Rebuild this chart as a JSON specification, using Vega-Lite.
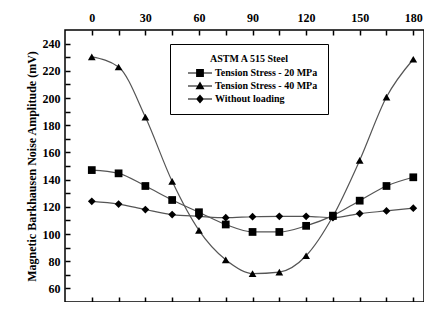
{
  "$schema": "https://vega.github.io/schema/vega-lite/v6.json",
  "width": 359,
  "height": 272,
  "autosize": {"type": "none"},
  "padding": {"left": 65, "top": 30, "right": 0, "bottom": 0},
  "background": "white",
  "config": {
    "view": {"stroke": "black", "strokeWidth": 1.5},
    "font": "Liberation Serif"
  },
  "data": {
    "values": [
      {"angle": 0, "amp": 147, "series": "Tension Stress - 20 MPa"},
      {"angle": 15, "amp": 144.6, "series": "Tension Stress - 20 MPa"},
      {"angle": 30, "amp": 135.3, "series": "Tension Stress - 20 MPa"},
      {"angle": 45, "amp": 125, "series": "Tension Stress - 20 MPa"},
      {"angle": 60, "amp": 116, "series": "Tension Stress - 20 MPa"},
      {"angle": 75, "amp": 107, "series": "Tension Stress - 20 MPa"},
      {"angle": 90, "amp": 101.5, "series": "Tension Stress - 20 MPa"},
      {"angle": 105, "amp": 101.5, "series": "Tension Stress - 20 MPa"},
      {"angle": 120, "amp": 106, "series": "Tension Stress - 20 MPa"},
      {"angle": 135, "amp": 113.5, "series": "Tension Stress - 20 MPa"},
      {"angle": 150, "amp": 124.5, "series": "Tension Stress - 20 MPa"},
      {"angle": 165, "amp": 135.3, "series": "Tension Stress - 20 MPa"},
      {"angle": 180, "amp": 141.7, "series": "Tension Stress - 20 MPa"},
      {"angle": 0, "amp": 230.2, "series": "Tension Stress - 40 MPa"},
      {"angle": 15, "amp": 222.8, "series": "Tension Stress - 40 MPa"},
      {"angle": 30, "amp": 186, "series": "Tension Stress - 40 MPa"},
      {"angle": 45, "amp": 138.7, "series": "Tension Stress - 40 MPa"},
      {"angle": 60, "amp": 102.7, "series": "Tension Stress - 40 MPa"},
      {"angle": 75, "amp": 81, "series": "Tension Stress - 40 MPa"},
      {"angle": 90, "amp": 70.9, "series": "Tension Stress - 40 MPa"},
      {"angle": 105, "amp": 72, "series": "Tension Stress - 40 MPa"},
      {"angle": 120, "amp": 84, "series": "Tension Stress - 40 MPa"},
      {"angle": 135, "amp": 113, "series": "Tension Stress - 40 MPa"},
      {"angle": 150, "amp": 154.2, "series": "Tension Stress - 40 MPa"},
      {"angle": 165, "amp": 200.7, "series": "Tension Stress - 40 MPa"},
      {"angle": 180, "amp": 228.5, "series": "Tension Stress - 40 MPa"},
      {"angle": 0, "amp": 124, "series": "Without loading"},
      {"angle": 15, "amp": 122, "series": "Without loading"},
      {"angle": 30, "amp": 118, "series": "Without loading"},
      {"angle": 45, "amp": 114.3, "series": "Without loading"},
      {"angle": 60, "amp": 113, "series": "Without loading"},
      {"angle": 75, "amp": 112, "series": "Without loading"},
      {"angle": 90, "amp": 112.7, "series": "Without loading"},
      {"angle": 105, "amp": 113, "series": "Without loading"},
      {"angle": 120, "amp": 113, "series": "Without loading"},
      {"angle": 135, "amp": 112, "series": "Without loading"},
      {"angle": 150, "amp": 115, "series": "Without loading"},
      {"angle": 165, "amp": 117, "series": "Without loading"},
      {"angle": 180, "amp": 119, "series": "Without loading"}
    ]
  },
  "encoding": {
    "x": {
      "field": "angle", "type": "quantitative",
      "scale": {"domain": [-15, 186], "nice": false, "zero": false},
      "axis": {
        "orient": "bottom", "title": null,
        "values": [0, 15, 30, 45, 60, 75, 90, 105, 120, 135, 150, 165, 180],
        "labelExpr": "datum.value % 30 === 0 ? datum.label : ''",
        "labelOverlap": false,
        "labelFont": "Liberation Serif", "labelFontWeight": "bold", "labelFontSize": 12, "labelColor": "black",
        "grid": false,
        "domain": false,
        "ticks": true, "tickColor": "black", "tickOpacity": 1, "tickWidth": 1.5,
        "tickSize": 5,
        "offset": -5,
        "labelPadding": 5,
        "zindex": 1
      }
    },
    "y": {
      "field": "amp", "type": "quantitative",
      "scale": {"domain": [50, 250], "nice": false, "zero": false},
      "axis": {
        "title": "Magnetic Barkhausen Noise Amplitude (mV)",
        "titleFont": "Liberation Serif", "titleFontWeight": "bold", "titleFontSize": 12, "titleColor": "black",
        "values": [60, 70, 80, 90, 100, 110, 120, 130, 140, 150, 160, 170, 180, 190, 200, 210, 220, 230, 240],
        "labelExpr": "datum.value % 20 === 0 ? datum.label : ''",
        "labelOverlap": false,
        "labelFont": "Liberation Serif", "labelFontWeight": "bold", "labelFontSize": 12, "labelColor": "black",
        "grid": false,
        "domain": false,
        "ticks": true, "tickColor": "black", "tickOpacity": 1, "tickWidth": 1.5,
        "tickSize": 5,
        "offset": -5,
        "labelPadding": 5,
        "titlePadding": 4,
        "zindex": 1
      }
    }
  },
  "layer": [
    {
      "mark": {"type": "line", "interpolate": "monotone", "color": "#555555", "strokeWidth": 1.2},
      "encoding": {
        "detail": {"field": "series"}
      }
    },
    {
      "mark": {"type": "point", "filled": true, "color": "black", "opacity": 1, "size": 60},
      "encoding": {
        "x": {
          "field": "angle", "type": "quantitative",
          "axis": {
            "orient": "top", "title": null,
            "values": [0, 15, 30, 45, 60, 75, 90, 105, 120, 135, 150, 165, 180],
            "labelExpr": "datum.value % 30 === 0 ? datum.label : ''",
            "labelOverlap": false,
            "labelFont": "Liberation Serif", "labelFontWeight": "bold", "labelFontSize": 12, "labelColor": "black",
            "grid": false,
            "domain": false,
            "ticks": true, "tickColor": "black", "tickOpacity": 1, "tickWidth": 1.5,
            "tickSize": 5,
            "offset": -5,
            "labelPadding": 6,
            "zindex": 1
          }
        },
        "shape": {
          "field": "series", "type": "nominal",
          "scale": {"domain": ["Tension Stress - 20 MPa", "Tension Stress - 40 MPa", "Without loading"], "range": ["square", "triangle-up", "diamond"]},
          "legend": null
        }
      }
    },
    {
      "mark": {"type": "point", "filled": true, "color": "black", "opacity": 0, "size": 144},
      "encoding": {
        "x": {"field": "angle", "type": "quantitative", "axis": null},
        "shape": {
          "field": "series", "type": "nominal",
          "scale": {
            "domain": ["Tension Stress - 20 MPa", "Tension Stress - 40 MPa", "Without loading"],
            "range": [
              "M-2,-0.1H2V0.1H-2ZM-0.65,-0.65H0.65V0.65H-0.65Z",
              "M-2,-0.1H2V0.1H-2ZM0,-0.75L0.75,0.55H-0.75Z",
              "M-2,-0.1H2V0.1H-2ZM0,-0.75L0.65,0L0,0.75L-0.65,0Z"
            ]
          },
          "legend": {
            "title": "ASTM A 515 Steel",
            "orient": "none",
            "legendX": 105,
            "legendY": 14,
            "strokeColor": "black",
            "fillColor": "white",
            "padding": 10,
            "titleFont": "Liberation Serif",
            "titleFontSize": 10,
            "titleFontWeight": "bold",
            "titleColor": "black",
            "titleAnchor": "middle",
            "titlePadding": 3,
            "labelFont": "Liberation Serif",
            "labelFontSize": 10,
            "labelFontWeight": "bold",
            "labelColor": "black",
            "labelOffset": 9,
            "symbolOffset": 14,
            "symbolSize": 144,
            "symbolOpacity": 1,
            "symbolFillColor": "black",
            "symbolStrokeColor": "black",
            "symbolStrokeWidth": 0,
            "rowPadding": 2
          }
        }
      }
    }
  ],
  "resolve": {"scale": {"shape": "independent"}, "axis": {"x": "independent"}}
}
